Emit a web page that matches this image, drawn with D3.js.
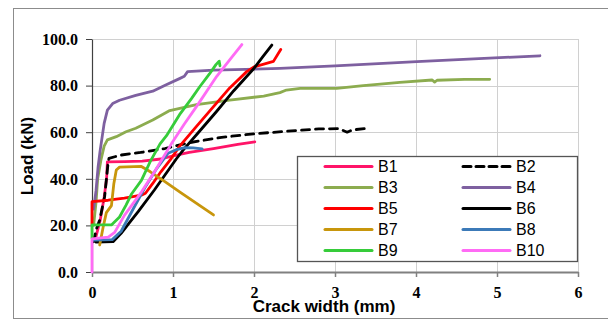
<!DOCTYPE html>
<html><head><meta charset="utf-8">
<script src="https://cdn.jsdelivr.net/npm/d3@7"></script>
<style>body{margin:0;background:#fff}svg{display:block}</style>
</head><body>
<svg id="c" width="608" height="322"></svg>
<script>
// ---- data (crack width mm, load kN) ----
const seriesNames = ["B1","B2","B3","B4","B5","B6","B7","B8","B9","B10"];
const seriesColors = ["#FF1468","#000000","#8CAC4F","#7E60A0","#FF0000","#000000","#C8960C","#3C7AB8","#36CC3A","#FF6BF5"];
const xTicks = [0,1,2,3,4,5,6];
const yTicks = [0,20,40,60,80,100];
const b1 = [[0.04,14],[0.1,22],[0.15,32],[0.18,40],[0.19,47.3],[0.4,47.4],[0.62,47.6],[0.85,48.5],[1.0,49.8],[1.2,51.3],[1.5,53],[1.8,54.8],[2.01,55.8]];
const b2 = [[0.02,13],[0.05,18],[0.095,22.3],[0.156,32.4],[0.177,39.5],[0.2,47.3],[0.21,48.8],[0.36,50.2],[0.6,51.3],[0.9,53],[1.2,55.5],[1.6,57.8],[2.0,59.3],[2.4,60.4],[2.8,61.4],[3.05,61.5],[3.15,60],[3.22,61],[3.41,61.7]];
const b3 = [[0.02,20],[0.05,30],[0.07,40],[0.11,48],[0.15,54],[0.19,56.7],[0.3,58.1],[0.42,60.2],[0.54,61.7],[0.75,65.2],[0.96,69.3],[1.29,71.8],[1.7,73.8],[2.12,75.5],[2.32,77],[2.4,78.1],[2.57,78.8],[3.02,78.8],[3.35,80],[3.8,81.4],[4.2,82.4],[4.23,81.5],[4.26,82.3],[4.6,82.7],[4.91,82.7]];
const b4 = [[0.02,27],[0.05,35],[0.075,45],[0.1,52],[0.15,63.8],[0.19,69.5],[0.255,72.3],[0.34,73.7],[0.54,75.8],[0.75,77.6],[0.91,80.3],[1.08,83],[1.14,84],[1.18,86],[1.5,86.6],[2.32,87.4],[3.0,88.5],[4.01,90.3],[5.53,92.8]];
const b5 = [[0,20.5],[0,30.2],[0.2,30.8],[0.4,31.7],[0.61,33],[0.66,33.8],[0.75,38],[0.85,43],[0.98,48.8],[1.08,53.9],[1.29,62.5],[1.5,71],[1.7,79],[1.91,86],[2.0,88],[2.24,90.4],[2.33,95.5]];
const b6 = [[0.05,12.8],[0.26,13],[0.36,16.6],[0.47,21.5],[0.57,25.9],[0.77,35.2],[1.04,48.5],[1.13,52.5],[1.33,60.5],[1.54,69],[1.75,77.8],[1.99,87],[2.1,92],[2.22,97.4]];
const b7 = [[0.095,11.6],[0.136,19],[0.177,25.5],[0.24,28.5],[0.27,38],[0.3,43.8],[0.34,45],[0.61,45.3],[0.72,43],[0.9,38.8],[1.1,34],[1.3,29.2],[1.5,24.5]];
const b8 = [[0.02,13.7],[0.25,13.9],[0.36,17.5],[0.5,26.5],[0.65,36],[0.8,44.5],[0.94,51],[1.04,52.5],[1.15,53.4],[1.25,53.3],[1.36,52.8]];
const b9 = [[0,14.5],[0,20.2],[0.24,20.2],[0.34,23.6],[0.42,28.7],[0.49,33.6],[0.61,39.3],[0.72,47.5],[0.84,55],[0.92,58.5],[1.09,68],[1.23,74.5],[1.33,79.5],[1.45,85],[1.53,89],[1.57,90.5],[1.58,88.5]];
const b10 = [[0,0],[0,14.2],[0.2,15],[0.28,17],[0.4,24.3],[0.61,34.3],[0.77,42.9],[0.98,55],[1.14,63.5],[1.3,71.5],[1.54,84],[1.7,91],[1.85,97.6]];
const seriesData = [b1,b2,b3,b4,b5,b6,b7,b8,b9,b10];

const SERIF = '"Liberation Serif","Times New Roman","DejaVu Serif",serif';
const SANS = '"Liberation Sans",Arial,sans-serif';

// ---- layout ----
const svg = d3.select("#c");
const x = d3.scaleLinear().domain([0,6]).range([92,578]);
const y = d3.scaleLinear().domain([0,100]).range([272,39]);

// outer frame
svg.append("rect").attr("x",13.5).attr("y",8.5).attr("width",620).attr("height",310)
  .attr("fill","#fff").attr("stroke","#8c8c8c").attr("stroke-width",1);

// grid
svg.append("g").selectAll("line").data(yTicks.filter(d=>d>0)).join("line")
  .attr("x1",x(0)).attr("x2",x(6)).attr("y1",d=>Math.round(y(d))+0.5).attr("y2",d=>Math.round(y(d))+0.5)
  .attr("stroke","#d0d0d0").attr("stroke-width",1);
svg.append("g").selectAll("line").data(xTicks.filter(d=>d>0)).join("line")
  .attr("y1",y(0)).attr("y2",y(100)).attr("x1",d=>Math.round(x(d))+0.5).attr("x2",d=>Math.round(x(d))+0.5)
  .attr("stroke","#d0d0d0").attr("stroke-width",1);

// axes
const yAxis = svg.append("g").attr("transform",`translate(${x(0)},0)`)
  .call(d3.axisLeft(y).tickValues(yTicks).tickFormat(d3.format(".1f")).tickSize(6).tickSizeOuter(0));
yAxis.select(".domain").attr("stroke","#404040").attr("stroke-width",1.2);
yAxis.selectAll(".tick line").attr("stroke","#404040");
yAxis.selectAll("text").style("font-family",SERIF).style("font-weight","bold").style("font-size","16px")
  .attr("fill","#000").attr("x",-14).attr("dy","0.33em");

const xAxis = svg.append("g").attr("transform",`translate(0,${y(0)})`)
  .call(d3.axisBottom(x).tickValues(xTicks).tickFormat(d3.format("d")).tickSize(5).tickSizeOuter(0));
xAxis.select(".domain").attr("stroke","#808080").attr("stroke-width",2);
xAxis.selectAll(".tick line").attr("stroke","#808080").attr("stroke-width",1.5);
xAxis.selectAll("text").style("font-family",SERIF).style("font-weight","bold").style("font-size","16px")
  .attr("fill","#000").attr("y",15).attr("dy","0.71em");

// series
const line = d3.line().x(d=>x(d[0])).y(d=>y(d[1]));
const plot = svg.append("g");
seriesData.forEach((s,i)=>{
  plot.append("path").datum(s).attr("d",line).attr("fill","none")
    .attr("stroke",seriesColors[i]).attr("stroke-width",2.8)
    .attr("stroke-linejoin","round").attr("stroke-linecap","round")
    .attr("stroke-dasharray", seriesNames[i]==="B2" ? "8,6" : null);
});

// titles
svg.append("text").attr("x",324).attr("y",312).attr("text-anchor","middle")
  .style("font-family",SANS).style("font-weight","bold").style("font-size","17px")
  .text("Crack width (mm)");
svg.append("text").attr("transform","translate(33,156) rotate(-90)").attr("text-anchor","middle")
  .style("font-family",SANS).style("font-weight","bold").style("font-size","17px")
  .text("Load (kN)");

// legend
const lg = svg.append("g");
lg.append("rect").attr("x",297.5).attr("y",156.5).attr("width",280).attr("height",105)
  .attr("fill","#fff").attr("stroke","#555").attr("stroke-width",1.3);
seriesNames.forEach((n,i)=>{
  const col = i%2, row = Math.floor(i/2);
  const lx = col ? 463 : 325, ly = 166.5 + row*21;
  lg.append("line").attr("x1",lx).attr("x2",lx+47).attr("y1",ly).attr("y2",ly)
    .attr("stroke",seriesColors[i]).attr("stroke-width",3).attr("stroke-linecap","round")
    .attr("stroke-dasharray", n==="B2" ? "8,5" : null);
  lg.append("text").attr("x",lx+53).attr("y",ly).attr("dy","0.36em")
    .style("font-family",SANS).style("font-size","16px").attr("fill","#000").text(n);
});
</script>
</body></html>
